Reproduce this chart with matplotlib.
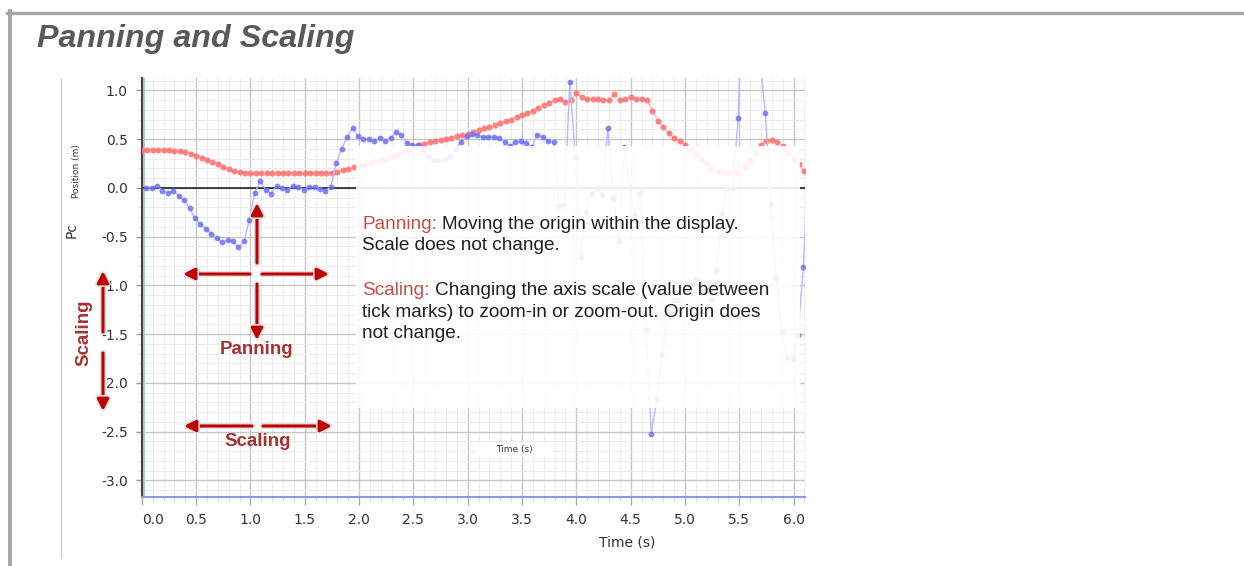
import matplotlib
matplotlib.use('Agg')
import matplotlib.pyplot as plt
import matplotlib.patheffects as pe
from matplotlib.patches import Rectangle, FancyArrowPatch
from matplotlib.lines import Line2D
from matplotlib.ticker import MultipleLocator
import numpy as np

plt.rcParams['axes.unicode_minus'] = False

# position of the red cart, sampled every 0.05 s from t = 0
red_pos = [0.39, 0.39, 0.39, 0.39, 0.385, 0.385, 0.38, 0.375, 0.365, 0.35,
           0.33, 0.31, 0.29, 0.26, 0.24, 0.21, 0.19, 0.17, 0.16, 0.15,
           0.15, 0.15, 0.15, 0.15, 0.15, 0.15, 0.15, 0.15, 0.15, 0.15,
           0.15, 0.15, 0.15, 0.15, 0.15, 0.155, 0.165, 0.18, 0.19, 0.21,
           0.22, 0.23, 0.25, 0.27, 0.28, 0.30, 0.32, 0.34, 0.36,
           0.39, 0.42, 0.44, 0.45, 0.47, 0.48, 0.49, 0.50, 0.51, 0.53,
           0.54, 0.55, 0.57, 0.59, 0.61, 0.62, 0.64, 0.66, 0.68, 0.70,
           0.73, 0.75, 0.77, 0.79, 0.82, 0.85, 0.87, 0.90, 0.91, 0.88, 0.90,
           0.97, 0.93, 0.91, 0.91, 0.91, 0.90, 0.90, 0.96, 0.90, 0.91,
           0.93, 0.91, 0.91, 0.90,
           0.79, 0.69, 0.62, 0.56, 0.51, 0.48, 0.44, 0.39, 0.35, 0.30,
           0.25, 0.20, 0.17, 0.15, 0.15, 0.15, 0.15, 0.21, 0.28, 0.36,
           0.44, 0.48, 0.49, 0.47, 0.43, 0.36, 0.30, 0.24, 0.17]

# position of the blue cart, sampled every 0.05 s from t = 0.04
blue_pos = [0.00, 0.00, 0.02, -0.03, -0.05, -0.03, -0.08, -0.13, -0.21, -0.31,
            -0.37, -0.42, -0.47, -0.51, -0.56, -0.54, -0.55, -0.61, -0.55, -0.33,
            -0.05, 0.07, -0.02, -0.06, 0.02, 0.00, -0.02, 0.02, 0.01, -0.02,
            0.01, 0.01, -0.01, -0.03, 0.01,
            0.25, 0.40, 0.52, 0.61, 0.53, 0.50, 0.50, 0.48, 0.51, 0.48,
            0.51, 0.57, 0.54, 0.46, 0.44, 0.44,
            0.40, 0.32, 0.28, 0.29, 0.29, 0.33, 0.40, 0.47, 0.53, 0.55,
            0.54, 0.52, 0.52, 0.52, 0.51, 0.47, 0.43, 0.47, 0.48, 0.46,
            0.42, 0.54, 0.52, 0.48, 0.47,
            -0.19, -0.18, 1.09, 0.32, -0.71,
            -0.25, -0.06, 0.00, -0.07, 0.61, -0.10, -0.55, 0.42, 0.00, -0.28,
            -0.05, -1.46, -2.52, -2.17, -1.70,
            -1.29, -1.15, -1.15, -1.05, -0.97, -0.94, -0.96, -1.05, -1.15, -0.84,
            -0.27, 0.00, 0.00, 0.72,
            2.3, 2.5, 2.0, 1.3,
            0.77, -0.17, -0.93, -1.48, -1.75, -1.75, -1.51, -0.81, 0.3]

red_t = np.arange(len(red_pos)) * 0.05
blue_t = 0.04 + np.arange(len(blue_pos)) * 0.05

W, H = 1244, 566
fig = plt.figure(figsize=(W / 100, H / 100), dpi=100)
fig.patch.set_facecolor('white')


def fx(x):
    return x / W


def fy(y):
    return 1 - y / H


ax = fig.add_axes([fx(141.8), fy(497), (805 - 141.8) / W, (497 - 78) / H])
ax.set_xlim(0, 6.105)
ax.set_ylim(-3.171, 1.126)

ax.xaxis.set_major_locator(MultipleLocator(0.5))
ax.xaxis.set_minor_locator(MultipleLocator(0.1))
ax.yaxis.set_major_locator(MultipleLocator(0.5))
ax.yaxis.set_minor_locator(MultipleLocator(0.1))
ax.xaxis.set_major_formatter('{x:.1f}')
ax.yaxis.set_major_formatter('{x:.1f}')
ax.set_axisbelow(True)
ax.grid(which='minor', color='#ececec', lw=0.7)
ax.grid(which='major', color='#c6c6c6', lw=1.0)

for s in ['top', 'right']:
    ax.spines[s].set_visible(False)
ax.spines['left'].set_color('#444444')
ax.spines['left'].set_linewidth(1.5)
ax.spines['bottom'].set_color('#8e9ae0')
ax.spines['bottom'].set_linewidth(1.5)
ax.axvline(0.02, color='#b6c0f2', lw=1.4, zorder=1.5)
ax.axhline(0, color='#222222', lw=1.2, zorder=2)

ax.tick_params(axis='y', which='major', direction='out', length=4.5, width=1,
               color='#9a9a9a', pad=5.5, labelsize=10, labelcolor='#333333')
ax.tick_params(axis='y', which='minor', direction='out', length=2.5, color='#d0d0d0')
ax.tick_params(axis='x', which='major', direction='out', length=5.8, width=1,
               color='#aaaaaa', pad=5.5, labelsize=10, labelcolor='#333333')
ax.tick_params(axis='x', which='minor', direction='out', length=2.9, color='#cccccc')

# data
ax.plot(red_t, red_pos, '-', color='#ffb8b8', lw=1, zorder=3)
ax.plot(red_t, red_pos, 'o', ms=4.4, mfc='#ff7070', mec='none', alpha=0.85, zorder=3)
ax.plot(blue_t, blue_pos, '-', color='#b8b8ff', lw=1, zorder=3)
ax.plot(blue_t, blue_pos, 'o', ms=4.2, mfc='#6a6af2', mec='none', alpha=0.8, zorder=3)

# white panel for the explanation text
ax.add_patch(Rectangle((1.97, -2.26), 6.06 - 1.97, 0.43 + 2.26, fc='white',
                       ec='none', alpha=0.9, zorder=4))
ax.add_patch(Rectangle((3.07, -2.76), 0.72, 0.155, fc='white', ec='none',
                       alpha=0.85, zorder=4))
ax.text(3.43, -2.685, 'Time (s)', fontsize=6.5, color='#333333',
        ha='center', va='center', zorder=5)

fig.canvas.draw()
for lab in ax.get_xticklabels():
    if lab.get_text() == '0.0':
        lab.set_ha('left')

# frame of the slide
fig.add_artist(Line2D([fx(7), 1], [fy(12.5), fy(12.5)], color='#a6a6a6', lw=2.4))
fig.add_artist(Line2D([fx(9.5), fx(9.5)], [fy(11), 0], color='#a6a6a6', lw=2.8))
fig.add_artist(Line2D([fx(60.5), fx(60.5)], [fy(79), fy(558)], color='#c8c8c8', lw=0.8))

fig.text(fx(37), fy(47), 'Panning and Scaling', fontsize=23.2, fontweight='bold',
         fontstyle='italic', color='#595959', family='Liberation Sans', va='baseline')

fig.text(fx(627), fy(543), 'Time (s)', fontsize=10, color='#333333',
         ha='center', va='center')
fig.text(fx(76), fy(171), 'Position (m)', fontsize=6.5, color='#333333',
         rotation=90, ha='center', va='center')
fig.text(fx(72), fy(230), 'Pc', fontsize=10, color='#333333',
         rotation=90, ha='center', va='center')

# arrows
dark_red = '#c00000'
shadow = [pe.withStroke(linewidth=4.5, foreground='#e0e0e0')]


def arrow(x0, y0, x1, y1):
    a = FancyArrowPatch((fx(x0), fy(y0)), (fx(x1), fy(y1)), arrowstyle='-|>',
                        mutation_scale=17, color=dark_red, lw=2.2,
                        shrinkA=0, shrinkB=0, transform=fig.transFigure,
                        path_effects=shadow, zorder=6)
    fig.add_artist(a)


arrow(250, 274, 183, 274)
arrow(262, 274, 329, 274)
arrow(257, 263, 257, 203)
arrow(257, 284, 257, 340)
arrow(252, 426, 184, 426)
arrow(263, 426, 332, 426)
arrow(103, 332, 103, 271)
arrow(103, 353, 103, 411)

label_red = '#a83232'
fig.text(fx(257), fy(350), 'Panning', fontsize=13.5, fontweight='bold',
         color=label_red, family='Liberation Sans', ha='center', va='center')
fig.text(fx(258), fy(442), 'Scaling', fontsize=13.5, fontweight='bold',
         color=label_red, family='Liberation Sans', ha='center', va='center')
fig.text(fx(84), fy(333), 'Scaling', fontsize=13.5, fontweight='bold',
         color=label_red, family='Liberation Sans', ha='center', va='center',
         rotation=90)

# explanation text, first word in red
word_red = '#c0504d'
ink = '#1e1e1e'
renderer = fig.canvas.get_renderer()


def line(x, y, red, rest, size=13.7):
    kw = dict(fontsize=size, family='Liberation Sans', va='baseline', zorder=6)
    if not red:
        fig.text(fx(x), fy(y), rest, color=ink, **kw)
        return
    full = fig.text(fx(x), fy(y), red + ' ' + rest, color=ink, **kw)
    w = full.get_window_extent(renderer=renderer).width
    full.remove()
    fig.text(fx(x), fy(y), red, color=word_red, **kw)
    fig.text(fx(x + w), fy(y), rest, color=ink, ha='right', **kw)


line(362, 229, 'Panning:', 'Moving the origin within the display.')
line(362, 250, '', 'Scale does not change.')
line(362, 295, 'Scaling:', 'Changing the axis scale (value between')
line(362, 317, '', 'tick marks) to zoom-in or zoom-out. Origin does')
line(362, 338, '', 'not change.')

fig.savefig('out.png', dpi=100)
